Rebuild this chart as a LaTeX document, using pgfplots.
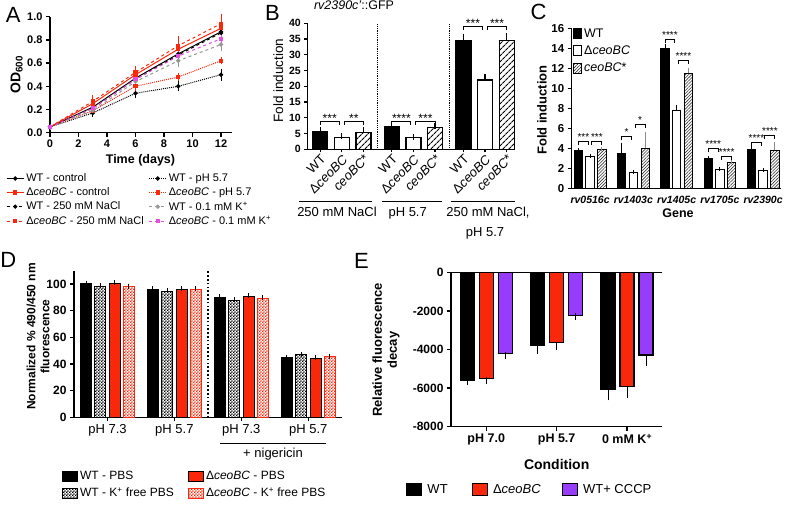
\documentclass[border=0pt]{standalone}
\usepackage{fontspec}
\setmainfont{Liberation Sans}
\usepackage{pgfplots}
\pgfplotsset{compat=1.18}
\usetikzlibrary{patterns,patterns.meta,calc}
\definecolor{gpred}{RGB}{250,40,10}
\definecolor{gppurple}{RGB}{150,60,250}
\definecolor{gpmag}{RGB}{225,80,225}
\definecolor{gpgray}{RGB}{150,150,150}
\pgfdeclarepatternformonly{finecheck}{\pgfpointorigin}{\pgfqpoint{3.2pt}{3.2pt}}{\pgfqpoint{3.2pt}{3.2pt}}{%
  \pgfpathrectangle{\pgfpointorigin}{\pgfqpoint{1.65pt}{1.65pt}}%
  \pgfpathrectangle{\pgfqpoint{1.6pt}{1.6pt}}{\pgfqpoint{1.65pt}{1.65pt}}%
  \pgfusepath{fill}}
\newcommand{\fs}[2]{\fontsize{#1}{#2}\selectfont}
% bracket: x1, x2, y, ylow, stars, font size, yshift
\newcommand{\brk}[7]{%
  \draw[line width=1pt] (axis cs:#1,#4) |- (axis cs:#2,#3) -- (axis cs:#2,#4);
  \node[anchor=base, inner sep=0pt, font=\fs{#6}{#6}, yshift=#7] at ($(axis cs:#1,#3)!0.5!(axis cs:#2,#3)$) {#5};}
\pgfplotsset{
  gp/.style={scale only axis, axis lines*=left, axis line style={-, line width=1.5pt},
    tick style={line width=1.3pt, black}, tick align=outside, major tick length=4pt, clip=false,
    tick label style={font=\bfseries\fs{11}{13}}, label style={font=\bfseries\fs{12.5}{15}},
    legend cell align={left}},
  sqlegendC/.style={legend image code/.code={\draw[##1] (0pt,-5pt) rectangle (8pt,5pt);}},
  sqlegendD/.style={legend image code/.code={\draw[##1] (0pt,-5pt) rectangle (15pt,5pt);}},
  sqlegendE/.style={legend image code/.code={\draw[##1] (0pt,-6pt) rectangle (15pt,6pt);}},
}
\begin{document}
\begin{tikzpicture}[x=1pt,y=1pt]

% ---------------- Panel A ----------------
\begin{scope}[shift={(50,-132.7)}]
\begin{axis}[gp, at={(0,0)}, anchor=south west, width=182.4pt, height=116pt,
  xmin=0, xmax=12.8, ymin=0, ymax=1,
  xtick={0,2,4,6,8,10,12}, xticklabels={0,2,4,6,8,10,12},
  ytick={0,0.2,0.4,0.6,0.8,1}, yticklabels={0.0,0.2,0.4,0.6,0.8,1.0},
  xlabel={Time (days)}, ylabel={OD\textsubscript{600}},
  xlabel style={at={(axis description cs:0.496,-0.235)}, anchor=center},
  ylabel style={at={(axis description cs:-0.183,0.5)}, anchor=center, font=\bfseries\fs{14}{16}},
  legend columns=2,
  legend style={at={(axis description cs:-0.241,-0.335)}, anchor=north west, draw=none, fill=none,
    font=\fs{11}{13}, row sep=0.5pt, inner sep=0pt, /tikz/every even column/.append style={column sep=3pt}},
  every axis plot/.append style={line width=1pt, mark size=1.6pt, mark options={solid},
    error bars/y dir=both, error bars/y explicit,
    error bars/error bar style={solid, line width=0.9pt},
    error bars/error mark options={solid, mark size=2.5pt, line width=0.9pt}},
]
\addplot[black, solid, mark=*] coordinates {(0,0.05)+-(0,0.005) (3,0.22)+-(0,0.02) (6,0.47)+-(0,0.02) (9,0.68)+-(0,0.02) (12,0.87)+-(0,0.03)};
\addlegendentry{WT - control}
\addplot[black, densely dotted, mark=*] coordinates {(0,0.05)+-(0,0.005) (3,0.17)+-(0,0.01) (6,0.34)+-(0,0.02) (9,0.40)+-(0,0.02) (12,0.50)+-(0,0.03)};
\addlegendentry{WT - pH 5.7}
\addplot[gpred, solid, mark=square*] coordinates {(0,0.05)+-(0,0.005) (3,0.25)+-(0,0.03) (6,0.50)+-(0,0.03) (9,0.72)+-(0,0.03) (12,0.90)+-(0,0.04)};
\addlegendentry{Δ\textit{ceoBC} - control}
\addplot[gpred, densely dotted, mark=square*] coordinates {(0,0.05)+-(0,0.005) (3,0.19)+-(0,0.01) (6,0.40)+-(0,0.02) (9,0.48)+-(0,0.01) (12,0.62)+-(0,0.01)};
\addlegendentry{Δ\textit{ceoBC} - pH 5.7}
\addplot[black, dashed, mark=*] coordinates {(0,0.05)+-(0,0.005) (3,0.21)+-(0,0.02) (6,0.46)+-(0,0.02) (9,0.67)+-(0,0.02) (12,0.86)+-(0,0.03)};
\addlegendentry{WT - 250 mM NaCl}
\addplot[gpgray, dashed, mark=*] coordinates {(0,0.05)+-(0,0.005) (3,0.19)+-(0,0.02) (6,0.44)+-(0,0.02) (9,0.62)+-(0,0.03) (12,0.76)+-(0,0.03)};
\addlegendentry{WT - 0.1 mM K\textsuperscript{+}}
\addplot[gpred, dashed, mark=square*] coordinates {(0,0.05)+-(0,0.005) (3,0.27)+-(0,0.03) (6,0.52)+-(0,0.03) (9,0.75)+-(0,0.06) (12,0.94)+-(0,0.06)};
\addlegendentry{Δ\textit{ceoBC} - 250 mM NaCl}
\addplot[gpmag, dashed, mark=square*] coordinates {(0,0.05)+-(0,0.005) (3,0.21)+-(0,0.02) (6,0.46)+-(0,0.02) (9,0.66)+-(0,0.02) (12,0.81)+-(0,0.02)};
\addlegendentry{Δ\textit{ceoBC} - 0.1 mM K\textsuperscript{+}}
\end{axis}
\end{scope}

% ---------------- Panel B ----------------
\begin{scope}[shift={(307.3,-149.3)}]
\begin{axis}[gp, at={(0,0)}, anchor=south west, width=207.7pt, height=126pt,
  xmin=0, xmax=207.7, ymin=0, ymax=40,
  ytick={0,5,10,15,20,25,30,35,40}, yticklabels={0,5,10,15,20,25,30,35,40},
  tick label style={font=\bfseries\fs{10.5}{12}},
  xtick={12.9,34.5,56.1,84.5,106.1,127.7,156.1,177.7,199.3},
  xticklabels={WT,Δ\textit{ceoBC},\textit{ceoBC}*,WT,Δ\textit{ceoBC},\textit{ceoBC}*,WT,Δ\textit{ceoBC},\textit{ceoBC}*},
  xticklabel style={rotate=45, anchor=north east, font=\fs{13}{15}, inner sep=1pt},
  major tick length=3pt,
  ylabel={Fold induction},
  ylabel style={at={(axis description cs:-0.14,0.546)}, anchor=center, font=\fs{13.5}{16}},
  title={\textit{rv2390c'}::GFP},
  title style={at={(axis description cs:0.225,1.098)}, anchor=center, font=\fs{12.5}{15}},
  every axis plot/.append style={line width=1.2pt, draw=black,
    error bars/y dir=plus, error bars/y explicit,
    error bars/error bar style={line width=1.1pt, black},
    error bars/error mark options={line width=1.1pt, mark size=3pt, black}},
]
\addplot[ybar, bar width=15pt, bar shift=0pt, fill=black] coordinates {(12.9,5.5)+-(0,0.7) (84.5,7.1)+-(0,0.4) (156.1,34.5)+-(0,1.2)};
\addplot[ybar, bar width=15pt, bar shift=0pt, fill=white] coordinates {(34.5,3.8)+-(0,0.4) (106.1,3.7)+-(0,0.15) (177.7,22.0)+-(0,0.9)};
\addplot[ybar, bar width=15pt, bar shift=0pt, pattern={Lines[angle=45,distance=4pt,line width=1.2pt]}, pattern color=black] coordinates {(56.1,5.3)+-(0,0.9) (127.7,7.0)+-(0,0.5) (199.3,34.6)+-(0,1.3)};
\draw[densely dotted, line width=0.8pt] (axis cs:70,0) -- (axis cs:70,40);
\draw[densely dotted, line width=0.8pt] (axis cs:142,0) -- (axis cs:142,40);
\brk{12.9}{32.0}{8.8}{7.7}{***}{12}{-1pt}
\brk{37.0}{56.1}{8.8}{7.7}{**}{12}{-1pt}
\brk{84.5}{103.6}{8.8}{7.7}{****}{12}{-1pt}
\brk{108.6}{127.7}{8.8}{7.7}{***}{12}{-1pt}
\brk{156.1}{175.2}{39.1}{38.0}{***}{12}{-1pt}
\brk{180.2}{199.3}{39.1}{38.0}{***}{12}{-1pt}
\end{axis}
\end{scope}
\draw[line width=1pt] (299,-201.7) -- (372,-201.7);
\draw[line width=1pt] (381.7,-201.7) -- (442,-201.7);
\draw[line width=1pt] (450.7,-201.7) -- (515,-201.7);
\node[anchor=base, font=\fs{13}{15}] at (337,-216.5) {250 mM NaCl};
\node[anchor=base, font=\fs{13}{15}] at (407.7,-216.5) {pH 5.7};
\node[anchor=base, font=\fs{13}{15}] at (488,-216.5) {250 mM NaCl,};
\node[anchor=base, font=\fs{13}{15}] at (485,-236) {pH 5.7};

% ---------------- Panel C ----------------
\begin{scope}[shift={(571.7,-188.5)}]
\begin{axis}[gp, at={(0,0)}, anchor=south west, width=209.3pt, height=160pt,
  xmin=0, xmax=209.3, ymin=0, ymax=16,
  ytick={0,2,4,6,8,10,12,14,16}, yticklabels={0,2,4,6,8,10,12,14,16},
  tick label style={font=\bfseries\fs{11.5}{13}},
  xtick={18.4,61.65,104.9,148.15,191.4},
  xticklabels={rv0516c,rv1403c,rv1405c,rv1705c,rv2390c},
  xticklabel style={font=\bfseries\itshape\fs{10.5}{12}},
  x tick style={draw=none},
  xlabel={Gene}, xlabel style={at={(axis description cs:0.508,-0.153)}, anchor=center},
  ylabel={Fold induction},
  ylabel style={at={(axis description cs:-0.142,0.49)}, anchor=center, font=\bfseries\fs{13}{15}},
  legend style={at={(axis description cs:0.006,1.012)}, anchor=north west, draw=none, fill=none,
    font=\fs{12.5}{15}, row sep=3pt, inner sep=0pt},
  every axis plot/.append style={line width=1pt, draw=black,
    error bars/y dir=plus, error bars/y explicit,
    error bars/error bar style={line width=1pt, black},
    error bars/error mark options={line width=1pt, mark size=2pt, black}},
]
\addplot[ybar, bar width=8.3pt, bar shift=0pt, fill=black, sqlegendC] coordinates {(6.8,3.75)+-(0,0.12) (50.05,3.45)+-(0,0.9) (93.3,13.95)+-(0,0.25) (136.55,2.95)+-(0,0.05) (179.8,3.85)+-(0,0.2)};
\addlegendentry{WT}
\addplot[ybar, bar width=8.3pt, bar shift=0pt, fill=white, sqlegendC] coordinates {(18.4,3.22)+-(0,0.05) (61.65,1.6)+-(0,0.06) (104.9,7.8)+-(0,0.3) (148.15,1.92)+-(0,0.05) (191.4,1.78)+-(0,0.07)};
\addlegendentry{Δ\textit{ceoBC}}
\addplot[ybar, bar width=8.3pt, bar shift=0pt, pattern={Lines[angle=45,distance=2.2pt,line width=0.6pt]}, pattern color=black!80, sqlegendC,
  error bars/error bar style={line width=1pt, black!45}, error bars/error mark options={line width=1pt, mark size=2pt, black!45}]
  coordinates {(30.2,3.85)+-(0,0.08) (73.45,4.0)+-(0,1.45) (116.7,11.5)+-(0,0.3) (159.95,2.58)+-(0,0.05) (203.2,3.82)+-(0,0.6)};
\addlegendentry{\textit{ceoBC}*}
\brk{6.8}{16.6}{4.7}{4.3}{***}{10}{1pt}
\brk{20.2}{30.2}{4.7}{4.3}{***}{10}{1pt}
\brk{50.05}{59.85}{5.2}{4.8}{*}{10}{1pt}
\brk{63.45}{73.45}{6.4}{6.0}{*}{10}{1pt}
\brk{93.3}{103.1}{14.9}{14.5}{****}{10}{1pt}
\brk{106.7}{116.7}{12.8}{12.4}{****}{10}{1pt}
\brk{136.55}{146.35}{4.0}{3.6}{****}{10}{1pt}
\brk{149.95}{159.95}{3.2}{2.8}{****}{10}{1pt}
\brk{179.8}{189.6}{4.6}{4.2}{****}{10}{1pt}
\brk{193.2}{203.2}{5.3}{4.9}{****}{10}{1pt}
\end{axis}
\end{scope}

% ---------------- Panel D ----------------
\begin{scope}[shift={(74,-417.3)}]
\begin{axis}[gp, at={(0,0)}, anchor=south west, width=267.7pt, height=146.7pt,
  xmin=0.5, xmax=4.5, ymin=0, ymax=110,
  ytick={0,20,40,60,80,100}, yticklabels={0,20,40,60,80,100},
  tick label style={font=\bfseries\fs{12}{14}},
  xtick={1,2,3,4}, xticklabels={pH 7.3,pH 5.7,pH 7.3,pH 5.7},
  xticklabel style={font=\fs{13}{15}},
  ylabel={Normalized \% 490/450 nm\\fluorescence},
  ylabel style={align=center, at={(axis description cs:-0.134,0.551)}, anchor=center, font=\bfseries\fs{12}{14}},
  legend columns=2,
  legend style={at={(axis description cs:-0.045,-0.352)}, anchor=north west, draw=none, fill=none,
    font=\fs{12}{14}, row sep=3pt, inner sep=0pt, /tikz/every even column/.append style={column sep=12pt}},
  every axis plot/.append style={line width=1pt,
    error bars/y dir=plus, error bars/y explicit,
    error bars/error bar style={line width=1pt, black},
    error bars/error mark options={line width=1pt, mark size=2.5pt, black}},
]
\addplot[ybar, bar width=11pt, bar shift=0pt, fill=black, draw=black, sqlegendD] coordinates {(0.680,100.3)+-(0,0.4) (1.680,95.8)+-(0,0.5) (2.680,89.8)+-(0,0.5) (3.680,44.8)+-(0,0.3)};
\addlegendentry{WT - PBS}
\addplot[ybar, bar width=11pt, bar shift=0pt, fill=gpred, draw=black, sqlegendD] coordinates {(1.109,100.3)+-(0,0.5) (2.109,96.2)+-(0,0.5) (3.109,90.4)+-(0,0.6) (4.109,44.4)+-(0,0.3)};
\addlegendentry{Δ\textit{ceoBC} - PBS}
\addplot[ybar, bar width=11pt, bar shift=0pt, pattern=finecheck, pattern color=black, draw=black, sqlegendD] coordinates {(0.892,98.2)+-(0,0.4) (1.892,94.6)+-(0,0.4) (2.892,87.8)+-(0,0.5) (3.892,46.8)+-(0,0.6)};
\addlegendentry{WT - K\textsuperscript{+} free PBS}
\addplot[ybar, bar width=11pt, bar shift=0pt, pattern=finecheck, pattern color=gpred, draw=gpred, sqlegendD] coordinates {(1.321,98.0)+-(0,0.4) (2.321,96.2)+-(0,0.4) (3.321,89.2)+-(0,0.4) (4.321,45.6)+-(0,0.3)};
\addlegendentry{Δ\textit{ceoBC} - K\textsuperscript{+} free PBS}
\draw[line width=1.6pt, dash pattern=on 1.6pt off 2.2pt] (axis cs:2.5,0) -- (axis cs:2.5,110);
\end{axis}
\end{scope}
\draw[line width=1pt] (220,-443.3) -- (326,-443.3);
\node[anchor=base, font=\fs{13}{15}] at (273,-457) {+ nigericin};

% ---------------- Panel E ----------------
\begin{scope}[shift={(451,-426.7)}]
\begin{axis}[gp, at={(0,0)}, anchor=south west, width=211.3pt, height=154.4pt,
  xmin=0.5, xmax=3.5, ymin=-8000, ymax=0,
  ytick={-8000,-6000,-4000,-2000,0}, yticklabels={-8000,-6000,-4000,-2000,0},
  tick label style={font=\bfseries\fs{12}{14}},
  xtick={1,2,3}, xticklabels={pH 7.0,pH 5.7,0 mM K\textsuperscript{+}},
  xticklabel style={font=\bfseries\fs{12.5}{15}},
  xlabel={Condition}, xlabel style={at={(axis description cs:0.5,-0.248)}, anchor=center, font=\bfseries\fs{14}{16}},
  ylabel={Relative fluorescence\\decay},
  ylabel style={align=center, at={(axis description cs:-0.308,0.497)}, anchor=center, font=\bfseries\fs{13}{15}},
  legend columns=3,
  legend style={at={(axis description cs:-0.213,-0.358)}, anchor=north west, draw=none, fill=none,
    font=\fs{13}{15}, inner sep=0pt,
    /tikz/every odd column/.append style={column sep=3pt},
    /tikz/column 2/.append style={column sep=22pt},
    /tikz/column 4/.append style={column sep=19pt}},
  every axis plot/.append style={line width=1.3pt, draw=black,
    error bars/y dir=minus, error bars/y explicit,
    error bars/error bar style={line width=1.1pt, black},
    error bars/error mark options={line width=1.1pt, mark size=3.5pt, black}},
]
\addplot[ybar, bar width=14pt, bar shift=0pt, fill=black, sqlegendE] coordinates {(0.730,-5580)+-(0,90) (1.730,-3770)+-(0,260) (2.730,-6060)+-(0,390)};
\addlegendentry{WT}
\addplot[ybar, bar width=14pt, bar shift=0pt, fill=gpred, sqlegendE] coordinates {(1,-5490)+-(0,140) (2,-3650)+-(0,200) (3,-5930)+-(0,380)};
\addlegendentry{Δ\textit{ceoBC}}
\addplot[ybar, bar width=14pt, bar shift=0pt, fill=gppurple, sqlegendE] coordinates {(1.270,-4200)+-(0,90) (2.270,-2250)+-(0,40) (3.270,-4290)+-(0,370)};
\addlegendentry{WT+ CCCP}
\draw[line width=1.5pt] (axis cs:0.5,0) -- (axis cs:3.5,0);
\end{axis}
\end{scope}

% ---------------- Panel letters ----------------
\node[font=\fs{22}{26}] at (13.3,-14.7) {A};
\node[font=\fs{22}{26}] at (272.5,-13.3) {B};
\node[font=\fs{22}{26}] at (538.5,-11.7) {C};
\node[font=\fs{22}{26}] at (8.3,-260) {D};
\node[font=\fs{22}{26}] at (361.5,-260.5) {E};

\pgfresetboundingbox
\path[use as bounding box] (0,0) rectangle (789,-505);
\end{tikzpicture}
\end{document}
